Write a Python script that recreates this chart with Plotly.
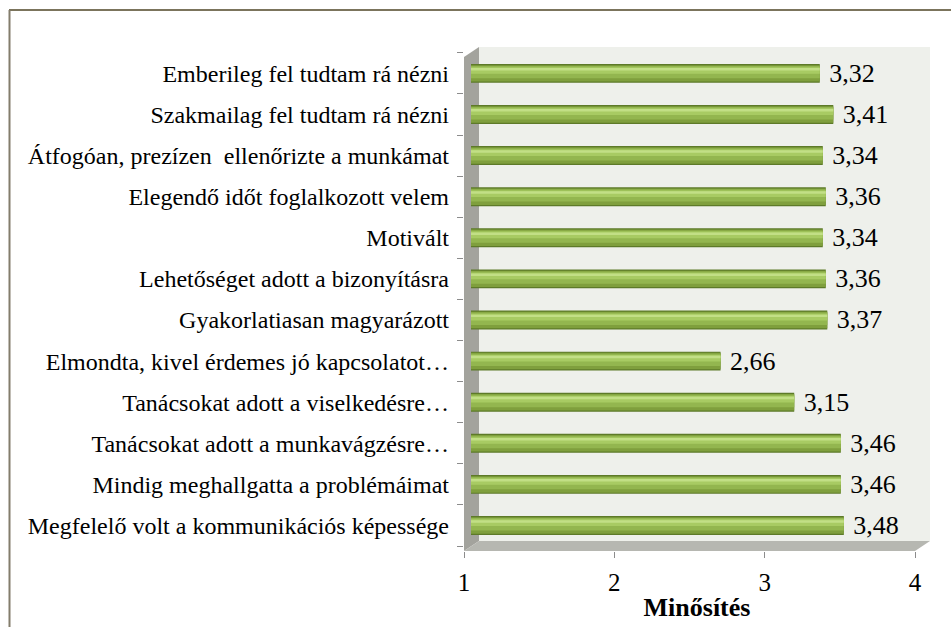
import plotly.graph_objects as go

categories = [
    "Megfelelő volt a kommunikációs képessége",
    "Mindig meghallgatta a problémáimat",
    "Tanácsokat adott a munkavágzésre…",
    "Tanácsokat adott a viselkedésre…",
    "Elmondta, kivel érdemes jó kapcsolatot…",
    "Gyakorlatiasan magyarázott",
    "Lehetőséget adott a bizonyításra",
    "Motivált",
    "Elegendő időt foglalkozott velem",
    "Átfogóan, prezízen  ellenőrizte a munkámat",
    "Szakmailag fel tudtam rá nézni",
    "Emberileg fel tudtam rá nézni",
]
values = [3.48, 3.46, 3.46, 3.15, 2.66, 3.37, 3.36, 3.34, 3.36, 3.34, 3.41, 3.32]
x_ticks = [1, 2, 3, 4]
x_title = "Minősítés"

W, H = 951, 627
L, R, T, B = 464, 930, 45, 551  # plot area in pixels
FONT = "Liberation Serif"

def px(x):
    return (x - L) / (R - L)

def py(y):
    return (B - y) / (B - T)

unit = (915 - 464) / 3.0
xrange_main = [1, 1 + (R - L) / unit]
shift = 7 / unit
xrange_bars = [xrange_main[0] - shift, xrange_main[1] - shift]

labels = [f"{v:.2f}".replace(".", ",") for v in values]
base = [1] * len(values)
lens = [v - 1 for v in values]

fig = go.Figure()
# invisible anchor trace so the main x/y axes are drawn
fig.add_trace(go.Scatter(x=[x_ticks[0]], y=[categories[0]], mode="markers",
                         marker=dict(opacity=0), hoverinfo="skip", showlegend=False))
layers = [
    (0.46, 0.0, "#5d7a28"),
    (0.40, 0.0, "#7f9f3d"),
    (0.30, 0.03, "#93b64f"),
    (0.16, 0.07, "#a8cb63"),
    (0.06, 0.10, "#c2df86"),
]
for i, (w, s, c) in enumerate(layers):
    fig.add_trace(go.Bar(
        y=categories, x=lens, base=base, orientation="h",
        width=w, offset=-w / 2 + s,
        marker=dict(color=c, line=dict(width=0)),
        xaxis="x2",
        text=labels if i == 0 else None,
        texttemplate="\u00a0%{text}" if i == 0 else None,
        textposition="outside" if i == 0 else "none",
        textfont=dict(family=FONT, size=26, color="#000000"),
        constraintext="none",
        cliponaxis=False,
        hoverinfo="skip" if i else None,
        showlegend=False,
    ))

shapes = [
    dict(type="rect", xref="paper", yref="paper", x0=px(479), x1=px(930), y0=py(541), y1=py(47),
         fillcolor="#eef0eb", line=dict(width=0), layer="below"),
    dict(type="path", xref="paper", yref="paper",
         path=f"M {px(464)} {py(551)} L {px(464)} {py(57)} L {px(479)} {py(47)} L {px(479)} {py(541)} Z",
         fillcolor="#a3a39d", line=dict(width=0), layer="below"),
    dict(type="path", xref="paper", yref="paper",
         path=f"M {px(464)} {py(551)} L {px(479)} {py(541)} L {px(930)} {py(541)} L {px(915)} {py(551)} Z",
         fillcolor="#b6b7b1", line=dict(width=0), layer="below"),
    dict(type="line", xref="paper", yref="paper", x0=px(9), x1=px(951), y0=py(10), y1=py(10),
         line=dict(color="#4f4626", width=1.5)),
    dict(type="line", xref="paper", yref="paper", x0=px(9.5), x1=px(9.5), y0=py(10), y1=py(627),
         line=dict(color="#837d6c", width=2)),
]

fig.update_layout(
    width=W, height=H,
    margin=dict(l=L, r=W - R, t=T, b=H - B),
    paper_bgcolor="#ffffff", plot_bgcolor="rgba(0,0,0,0)",
    barmode="overlay",
    shapes=shapes,
    font=dict(family=FONT, color="#000000"),
    xaxis=dict(range=xrange_main, tickvals=x_ticks, ticktext=[str(t) for t in x_ticks],
               ticks="outside", ticklen=6, tickcolor="#8c8c8c", showgrid=False, zeroline=False,
               showline=False, tickfont=dict(family=FONT, size=25), ticklabelstandoff=3,
               title=dict(text=f"<b>{x_title}</b>", font=dict(family=FONT, size=26), standoff=2)),
    xaxis2=dict(range=xrange_bars, overlaying="x", visible=False),
    yaxis=dict(type="category", categoryorder="array", categoryarray=categories,
               range=[-0.62, 11.69], tickson="boundaries", ticks="outside", ticklen=6,
               tickcolor="#8c8c8c", showgrid=False, zeroline=False, showline=False,
               tickfont=dict(family=FONT, size=24), ticklabelstandoff=14),
)

fig.write_html("out.html", config={"displayModeBar": False},
               post_script="document.body.style.margin='0';document.body.style.overflow='hidden';")
